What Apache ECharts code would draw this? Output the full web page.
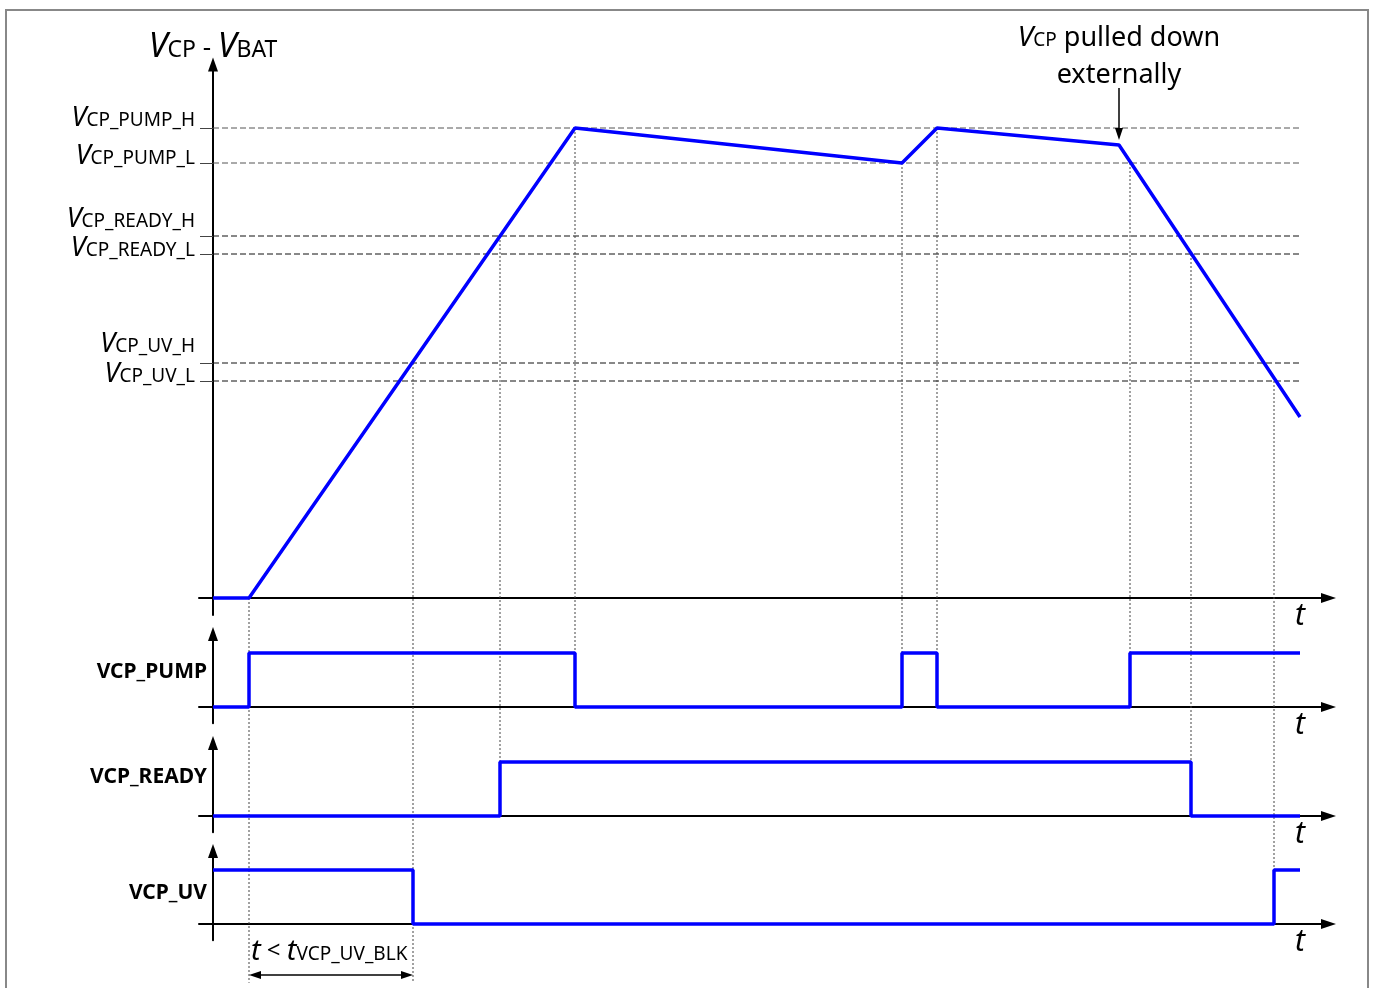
<!DOCTYPE html>
<html><head><meta charset="utf-8">
<script src="https://cdn.jsdelivr.net/npm/echarts@6/dist/echarts.min.js"></script>
<style>html,body{margin:0;padding:0;background:#fff}#c{width:1373px;height:988px}</style>
</head><body><div id="c"></div>
<script>
// ---------- data ----------
const vcpTime = [0, 3.6, 36.2, 68.9, 72.4, 90.6, 108.7];
const vcpValue = [0, 0, 4.7, 4.35, 4.7, 4.53, 1.81];
const thresholdNames = ['CP_PUMP_H', 'CP_PUMP_L', 'CP_READY_H', 'CP_READY_L', 'CP_UV_H', 'CP_UV_L'];
const thresholdValues = [4.7, 4.35, 3.62, 3.44, 2.35, 2.17];
const signalNames = ['VCP_PUMP', 'VCP_READY', 'VCP_UV'];
const pumpTime = [0, 3.6, 36.2, 68.9, 72.4, 91.7, 108.7];
const pumpLevel = [0, 1, 0, 1, 0, 1, 1];
const readyTime = [0, 28.7, 97.8, 108.7];
const readyLevel = [0, 1, 0, 0];
const uvTime = [0, 20.0, 106.1, 108.7];
const uvLevel = [1, 0, 1, 1];
const markerTime = [3.6, 20.0, 28.7, 36.2, 68.9, 72.4, 91.7, 97.8, 106.1];
const markerFrom = [null, 'CP_UV_H', 'CP_READY_H', 'CP_PUMP_H', 'CP_PUMP_L', 'CP_PUMP_H', 'CP_PUMP_L', 'CP_READY_L', 'CP_UV_L'];
const markerToSignal = ['VCP_UV', 'VCP_UV', 'VCP_READY', 'VCP_PUMP', 'VCP_PUMP', 'VCP_PUMP', 'VCP_PUMP', 'VCP_READY', 'VCP_UV'];
const markerToLevel = [-1.09, -1.09, 1, 1, 1, 1, 1, 1, 1];
const blankingWindow = [3.6, 20.0];
const pulldownTime = 90.6;

// ---------- layout / style ----------
const FONT = "'Noto Sans', sans-serif";
const BLUE = '#0000ff';
const xMin = -1.4, xMax = 111.55;
const gridLeft = 199, gridRight = 44.5;
const H = 988;
const sigAxisPx = [707, 816, 924];
const sigScale = 54, sigMin = -0.3, sigMax = 1.35;
const labelLift = [0.11, 0.08, 0.18, 0.07, 0.20, 0.08];
const sigLabelAt = [0.64, 0.73, 0.57];

const chart = echarts.init(document.getElementById('c'), null, {renderer: 'canvas'});

const grids = [{left: gridLeft, right: gridRight, top: 64.5, bottom: H - 615, outerBoundsMode: 'none'}];
sigAxisPx.forEach(a => grids.push({left: gridLeft, right: gridRight, top: a - sigMax * sigScale, bottom: H - (a - sigMin * sigScale), outerBoundsMode: 'none'}));

function xAxisCfg(i) {
  return {
    type: 'value', gridIndex: i, min: xMin, max: xMax,
    axisLine: {onZero: true, symbol: ['none', 'triangle'], symbolSize: [10, 15], lineStyle: {color: '#000', width: 2}},
    axisTick: {show: false}, axisLabel: {show: false}, splitLine: {show: false},
    name: 't', nameLocation: 'end', nameGap: -28.5,
    nameTextStyle: {fontFamily: FONT, fontSize: 30, fontStyle: 'italic', color: '#000', align: 'center', verticalAlign: 'top', padding: [3, 0, 0, 0]}
  };
}
const xAxes = [0, 1, 2, 3].map(xAxisCfg);

const labelValues = thresholdValues.map((v, i) => v + labelLift[i]);
const yAxes = [{
  type: 'value', gridIndex: 0, min: -0.17, max: 5.335,
  axisLine: {onZero: true, symbol: ['none', 'triangle'], symbolSize: [10, 14], lineStyle: {color: '#000', width: 2}},
  axisTick: {show: true, customValues: thresholdValues, length: 13, lineStyle: {color: '#444', width: 1}},
  axisLabel: {
    show: true, customValues: labelValues, margin: 4,
    formatter: function (v) {
      let best = 0;
      labelValues.forEach((lv, i) => { if (Math.abs(lv - v) < Math.abs(labelValues[best] - v)) best = i; });
      return '{v|V}{s|' + thresholdNames[best] + '}';
    },
    rich: {
      v: {fontFamily: FONT, fontSize: 27, fontStyle: 'italic', color: '#000', lineHeight: 30, verticalAlign: 'bottom'},
      s: {fontFamily: FONT, fontSize: 19, color: '#000', lineHeight: 30, verticalAlign: 'bottom', padding: [0, 0, 2, 0]}
    }
  },
  splitLine: {show: false},
  name: '{v|V}{s|CP}{m| - }{v|V}{s|BAT}', nameLocation: 'end', nameGap: 0,
  nameTextStyle: {
    align: 'center', verticalAlign: 'bottom',
    rich: {
      v: {fontFamily: FONT, fontSize: 34, fontStyle: 'italic', color: '#000', lineHeight: 38, verticalAlign: 'bottom'},
      s: {fontFamily: FONT, fontSize: 23, color: '#000', lineHeight: 38, verticalAlign: 'bottom', padding: [0, 0, 3, 0]},
      m: {fontFamily: FONT, fontSize: 26, color: '#000', lineHeight: 38, verticalAlign: 'bottom', padding: [0, 0, 3, 0]}
    }
  }
}];
signalNames.forEach((n, i) => yAxes.push({
  type: 'value', gridIndex: i + 1, min: sigMin, max: sigMax,
  axisLine: {onZero: true, symbol: ['none', 'triangle'], symbolSize: [10, 14], lineStyle: {color: '#000', width: 2}},
  axisTick: {show: false}, splitLine: {show: false},
  axisLabel: {
    show: true, customValues: [sigLabelAt[i]], margin: -8,
    formatter: () => n,
    fontFamily: FONT, fontSize: 21, fontWeight: 'bold', color: '#000'
  }
}));

const series = [];
thresholdValues.forEach((v, i) => series.push({
  type: 'line', xAxisIndex: 0, yAxisIndex: 0, silent: true, symbol: 'none', z: 1,
  data: [[0, v], [vcpTime[vcpTime.length - 1], v]],
  lineStyle: {color: i < 2 ? '#555' : '#111', width: 1, type: [6, 3]}
}));
series.push({
  type: 'line', xAxisIndex: 0, yAxisIndex: 0, symbol: 'none', z: 5,
  data: vcpTime.map((t, i) => [t, vcpValue[i]]),
  lineStyle: {color: BLUE, width: 3.5},
  markLine: {
    silent: true, animation: false, symbol: ['none', 'triangle'], symbolSize: [8, 12],
    lineStyle: {color: '#000', width: 1.5, type: 'solid'},
    label: {
      show: true, position: 'start', distance: -1,
      formatter: '{v|V}{s|CP}{r| pulled down}\n{r|externally}',
      rich: {
        v: {fontFamily: FONT, fontSize: 28, fontStyle: 'italic', color: '#000', lineHeight: 37, verticalAlign: 'bottom'},
        s: {fontFamily: FONT, fontSize: 19, color: '#000', lineHeight: 37, verticalAlign: 'bottom', padding: [0, 0, 2, 0]},
        r: {fontFamily: FONT, fontSize: 27, color: '#000', lineHeight: 37, verticalAlign: 'bottom'}
      }
    },
    data: [[{coord: [pulldownTime, 5.10]}, {coord: [pulldownTime, 4.64]}]]
  }
});
[[pumpTime, pumpLevel], [readyTime, readyLevel], [uvTime, uvLevel]].forEach(([t, l], i) => series.push({
  type: 'line', xAxisIndex: i + 1, yAxisIndex: i + 1, step: 'end', symbol: 'none', z: 5,
  data: t.map((x, j) => [x, l[j]]),
  lineStyle: {color: BLUE, width: 3.5}
}));
// blanking-time double arrow and label
series.push({
  type: 'line', xAxisIndex: 3, yAxisIndex: 3, clip: false, silent: true, z: 4,
  symbolSize: [8, 12], showSymbol: true,
  data: [{value: [blankingWindow[0] + 0.6, -0.944], symbol: 'triangle', symbolRotate: 90},
         {value: [blankingWindow[1] - 0.6, -0.944], symbol: 'triangle', symbolRotate: -90}],
  itemStyle: {color: '#000'}, lineStyle: {color: '#000', width: 1.5}
});
series.push({
  type: 'scatter', xAxisIndex: 3, yAxisIndex: 3, clip: false, silent: true, z: 4,
  symbolSize: 0, itemStyle: {color: '#000', opacity: 1},
  data: [[blankingWindow[0], -0.48]],
  label: {
    show: true, position: 'right', distance: 2, color: '#000', opacity: 1,
    formatter: '{t|t}{o| < }{t|t}{s|VCP_UV_BLK}',
    rich: {
      t: {fontFamily: FONT, fontSize: 29, fontStyle: 'italic', color: '#000', lineHeight: 32, verticalAlign: 'bottom'},
      o: {fontFamily: FONT, fontSize: 24, color: '#000', lineHeight: 32, verticalAlign: 'bottom', padding: [0, 0, 3, 0]},
      s: {fontFamily: FONT, fontSize: 19, color: '#000', lineHeight: 32, verticalAlign: 'bottom', padding: [0, 0, 2, 0]}
    }
  }
});

const option = {
  animation: false,
  backgroundColor: '#fff',
  textStyle: {fontFamily: FONT},
  grid: grids, xAxis: xAxes, yAxis: yAxes, series: series,
  graphic: [{type: 'rect', silent: true, z: -10, shape: {x: 6, y: 10, width: 1362, height: 1000},
             style: {fill: 'none', stroke: '#888', lineWidth: 2}}]
};
chart.setOption(option);

// dotted marker lines: from threshold crossing down to the signal edge
const markers = markerTime.map((t, i) => {
  const top = markerFrom[i] ? thresholdValues[thresholdNames.indexOf(markerFrom[i])] : 0;
  const g = signalNames.indexOf(markerToSignal[i]) + 1;
  const px = chart.convertToPixel({gridIndex: g}, [t, markerToLevel[i]]);
  const bottom = chart.convertFromPixel({gridIndex: 0}, px)[1];
  return {
    type: 'line', xAxisIndex: 0, yAxisIndex: 0, clip: false, silent: true, symbol: 'none', z: 1,
    data: [[t, top], [t, bottom]],
    lineStyle: {color: '#444', width: 1, type: [2, 2]}
  };
});
chart.setOption({series: series.concat(markers)});
</script>
</body></html>
